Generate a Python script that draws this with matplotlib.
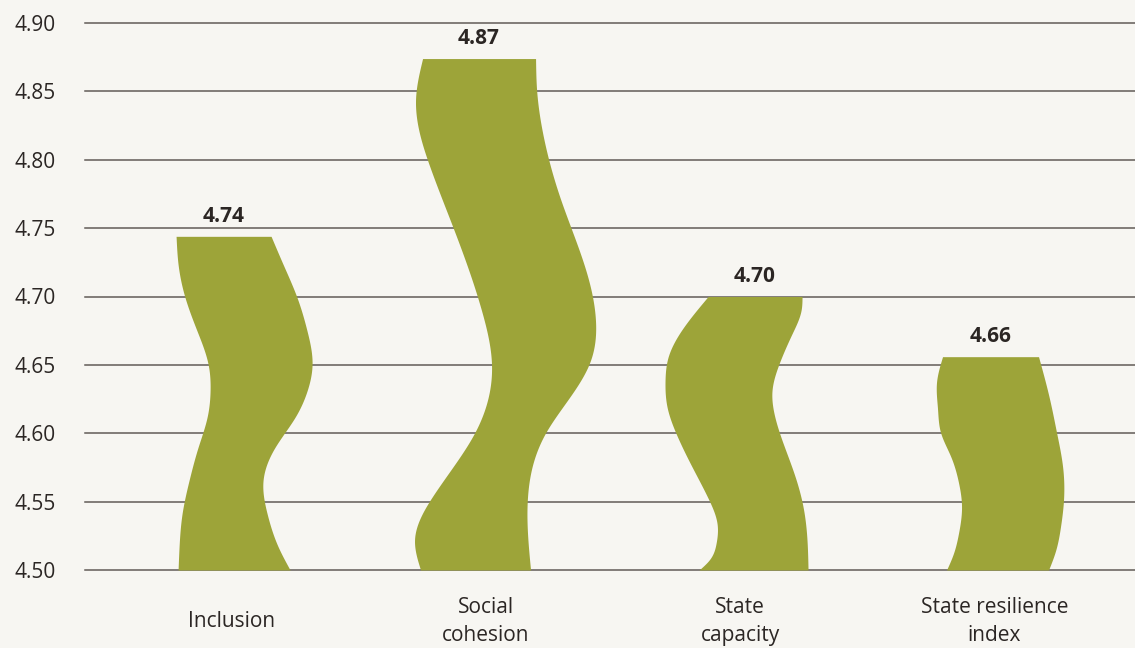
import numpy as np
import matplotlib.pyplot as plt

categories = ["Inclusion", "Social\ncohesion", "State\ncapacity", "State resilience\nindex"]
scores = [4.744, 4.874, 4.700, 4.656]
y_ticks = [4.50, 4.55, 4.60, 4.65, 4.70, 4.75, 4.80, 4.85, 4.90]

BASE = 4.50
BAR_COLOR = "#9DA439"
BG = "#F7F6F2"
TEXT = "#2B2624"
GRID = "#615B58"
PX_PER_CAT = 254.5  # outline offsets below are in pixels at this scale

# wavy outline of each bar: fraction of bar height -> edge offset from the category centre
left_t = [
    [0, 0.07, 0.169, 0.269, 0.368, 0.458, 0.537, 0.617, 0.716, 0.816, 0.916, 1],
    [0, 0.06, 0.144, 0.268, 0.398, 0.5, 0.672, 0.79, 0.921, 1],
    [0, 0.036, 0.097, 0.17, 0.255, 0.377, 0.499, 0.596, 0.693, 0.778, 0.9, 1],
    [0, 0.079, 0.173, 0.299, 0.409, 0.534, 0.645, 0.755, 0.88, 1],
]
left_x = [
    [-53, -52, -49, -42, -33, -24, -21, -23, -34, -46, -53, -55],
    [-65, -71, -53, -11, 6, -3, -33, -56, -70, -63],
    [-41, -31, -24, -23, -31, -48, -64, -73, -75, -72, -54, -32],
    [-48, -41, -36, -33, -36, -44, -54, -57, -58, -52],
]
right_t = [
    [0, 0.07, 0.169, 0.269, 0.368, 0.458, 0.537, 0.617, 0.716, 0.816, 0.916, 1],
    [0, 0.144, 0.268, 0.346, 0.405, 0.485, 0.594, 0.725, 0.855, 0.94, 1],
    [0, 0.107, 0.231, 0.353, 0.474, 0.572, 0.657, 0.754, 0.864, 0.949, 1],
    [0, 0.09, 0.204, 0.33, 0.487, 0.645, 0.802, 1],
]
right_x = [
    [59, 47, 36, 32, 44, 64, 76, 81, 76, 66, 52, 40],
    [45, 42, 60, 87, 104, 110, 99, 75, 57, 51, 50],
    [68, 67, 63, 54, 42, 34, 32, 39, 52, 61, 62],
    [54, 61, 66, 69, 68, 62, 55, 44],
]


def smooth(ts, vs, tt):
    # natural cubic spline through the outline points
    ts = np.asarray(ts, dtype=float)
    vs = np.asarray(vs, dtype=float)
    n = len(ts)
    h = np.diff(ts)
    A = np.zeros((n, n))
    b = np.zeros(n)
    A[0, 0] = A[-1, -1] = 1
    for i in range(1, n - 1):
        A[i, i - 1] = h[i - 1]
        A[i, i] = 2 * (h[i - 1] + h[i])
        A[i, i + 1] = h[i]
        b[i] = 6 * ((vs[i + 1] - vs[i]) / h[i] - (vs[i] - vs[i - 1]) / h[i - 1])
    M = np.linalg.solve(A, b)
    idx = np.clip(np.searchsorted(ts, tt) - 1, 0, n - 2)
    hi = h[idx]
    s0 = tt - ts[idx]
    s1 = ts[idx + 1] - tt
    return (M[idx] * s1**3 / (6 * hi) + M[idx + 1] * s0**3 / (6 * hi)
            + (vs[idx] / hi - M[idx] * hi / 6) * s1
            + (vs[idx + 1] / hi - M[idx + 1] * hi / 6) * s0)


plt.rcParams['font.family'] = ['Open Sans', 'DejaVu Sans']

fig = plt.figure(figsize=(11.35, 6.48), dpi=100, facecolor=BG)
ax = fig.add_axes([85 / 1135, 78 / 648, 1050 / 1135, 547 / 648])
ax.set_facecolor(BG)

tt = np.linspace(0, 1, 400)
for i, score in enumerate(scores):
    y = BASE + tt * (score - BASE)
    left = i + smooth(left_t[i], left_x[i], tt) / PX_PER_CAT
    right = i + smooth(right_t[i], right_x[i], tt) / PX_PER_CAT
    ax.fill_betweenx(y, left, right, color=BAR_COLOR, linewidth=0, zorder=3)
    top_mid = i + (left_x[i][-1] + right_x[i][-1]) / 2 / PX_PER_CAT
    ax.annotate(f"{score:.2f}", (top_mid, score), xytext=(0, 7), textcoords="offset points",
                ha="center", va="bottom", fontsize=15, fontweight="bold", color=TEXT)

ax.set_xlim(-0.574, 3.552)
ax.set_ylim(BASE, 4.90)
ax.set_yticks(y_ticks, [f"{v:.2f}" for v in y_ticks])
ax.set_xticks(range(len(categories)), categories, va="center", linespacing=1.45)
ax.tick_params(axis="y", length=0, pad=21, labelsize=15, colors=TEXT)
ax.tick_params(axis="x", length=0, pad=37, labelsize=15, colors=TEXT)

ax.yaxis.grid(True, color=GRID, linewidth=1.1)
for line in ax.get_ygridlines():
    line.set_clip_on(False)
ax.set_axisbelow(True)
for spine in ax.spines.values():
    spine.set_visible(False)

fig.savefig("out.png", dpi=100, facecolor=BG)
